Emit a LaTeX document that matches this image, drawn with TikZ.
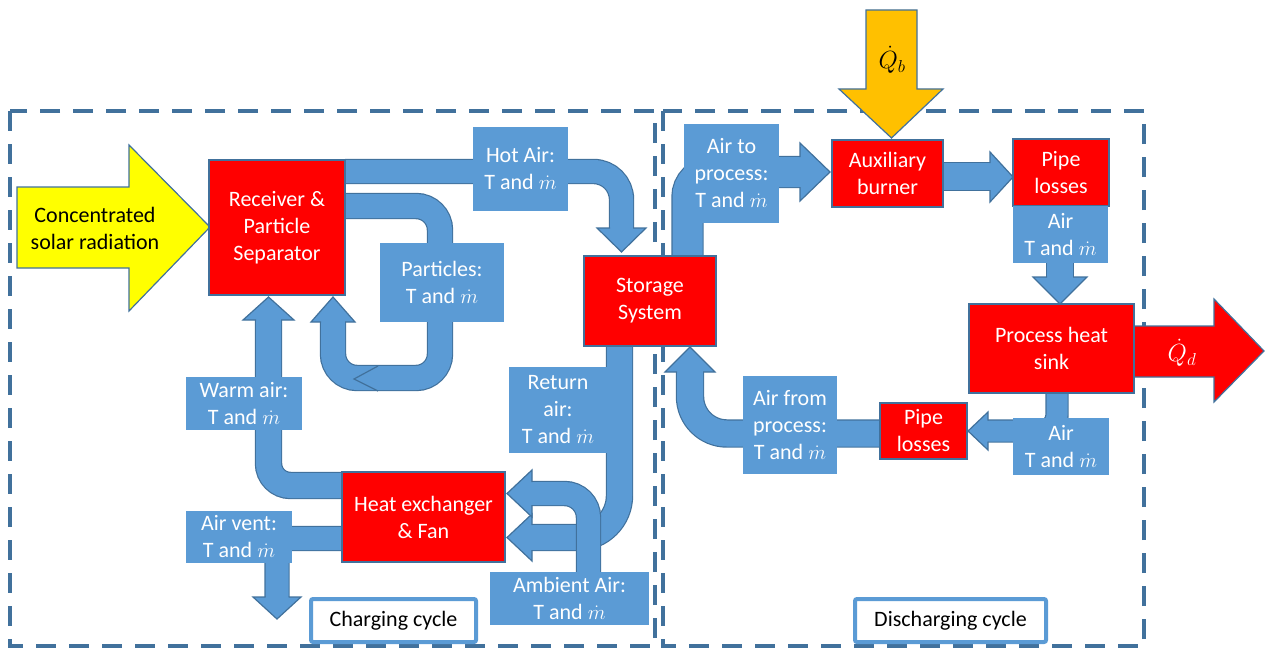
\documentclass[tikz,border=0pt]{standalone}
\usepackage{fontspec}
\setmainfont{Carlito}
\definecolor{lblue}{HTML}{5B9BD5}
\definecolor{dblue}{HTML}{41719C}
\definecolor{pred}{HTML}{FF0000}
\definecolor{pyellow}{HTML}{FFFF00}
\definecolor{porange}{HTML}{FFC000}
\newcommand\ftxt{\fontsize{22}{27}\selectfont}
\newcommand\flowshaft[3]{%
  \draw[dblue, line width=#1pt+2.4pt, rounded corners=#2pt] #3;
  \draw[lblue, line width=#1pt, rounded corners=#2pt] #3;}
\newcommand\flowhead[5]{% shaft edge 1, corner 1, tip, corner 2, shaft edge 2
  \fill[lblue] #1 -- #2 -- #3 -- #4 -- #5 -- cycle;
  \draw[dblue, line width=1.2pt, line join=miter] #1 -- #2 -- #3 -- #4 -- #5;}
\tikzset{
  redbox/.style={draw=dblue, line width=1.5pt, fill=pred, text=white, align=center, inner sep=0pt, font=\ftxt},
  lblbox/.style={fill=lblue, text=white, align=center, inner sep=0pt, font=\ftxt},
  cyclebox/.style={draw=lblue, line width=4pt, fill=white, text=black, inner sep=0pt, rounded corners=2pt, font=\ftxt},
  cyclefrm/.style={draw=dblue, line width=4.5pt, dash pattern=on 20pt off 13pt},
  bigarrow/.style={draw=dblue, line width=1.2pt, line join=miter},
}
\begin{document}
\begin{tikzpicture}[x=1pt, y=-1pt]
\useasboundingbox (0,0) rectangle (1265,650);

% cycle frames
\draw[cyclefrm] (10,111) rectangle (655,646);
\draw[cyclefrm] (663,111) rectangle (1144,646);

% big input/output arrows
\draw[bigarrow, fill=pyellow] (17,187) -- (129,187) -- (129,145) -- (210,227) -- (129,311) -- (129,268) -- (17,268) -- cycle;
\node[font=\ftxt, align=center, text=black] (solar) at (95,228) {Concentrated\\solar radiation};
\draw[bigarrow, fill=porange] (866,10) -- (917,10) -- (917,89) -- (943,89) -- (891.5,138) -- (839,89) -- (866,89) -- cycle;
\node[font=\fontsize{26}{30}\selectfont, text=black] (qb) at (892,60) {$\dot Q_b$};
\draw[bigarrow, fill=pred] (1134,326) -- (1214,326) -- (1214,299) -- (1264,351) -- (1214,402) -- (1214,377) -- (1134,377) -- cycle;
\node[font=\fontsize{26}{30}\selectfont, text=white] (qd) at (1182,353) {$\dot Q_d$};

% flow arrows
% hot air
\flowshaft{23}{28}{(345,171.5) -- (621.5,171.5) -- (621.5,228.5)}
\flowhead{(610,228)}{(597,228)}{(621.5,252)}{(646,228)}{(633,228)}
% particles loop
\flowshaft{24}{24}{(345,206) -- (440,206) -- (440,378) -- (333,378) -- (333,321.5)}
\flowhead{(321,322)}{(311,322)}{(333,297)}{(355,322)}{(345,322)}
\draw[dblue, line width=1.2pt] (378,366) -- (354,379) -- (378,391);
% warm air
\flowshaft{25}{22}{(342,485.5) -- (268.5,485.5) -- (268.5,319.5)}
\flowhead{(256,320)}{(243,320)}{(268.5,297)}{(294,320)}{(281,320)}
% air vent
\flowshaft{23}{14}{(342,538.5) -- (277,538.5) -- (277,597.5)}
\flowhead{(265.5,597)}{(253,597)}{(277,619)}{(301,597)}{(288.5,597)}
% return air
\flowshaft{25}{42}{(619.5,346) -- (619.5,537.5) -- (531.5,537.5)}
\flowhead{(532,525)}{(532,514)}{(507,537.5)}{(532,561)}{(532,550)}
% ambient air
\flowshaft{23}{24}{(588.5,572) -- (588.5,493.5) -- (531.5,493.5)}
\flowhead{(532,482)}{(532,470)}{(507,493.5)}{(532,517)}{(532,505)}
% storage -> air to process
\flowshaft{30}{25}{(687.5,256) -- (687.5,172) -- (800.5,172)}
\flowhead{(800,157)}{(800,143)}{(830,172)}{(800,201)}{(800,187)}
% burner -> pipe
\flowshaft{27}{0}{(943,176.5) -- (990.5,176.5)}
\flowhead{(990,163)}{(990,152)}{(1013,177)}{(990,202)}{(990,190)}
% pipe -> sink
\flowshaft{26}{0}{(1060,206) -- (1060,277.5)}
\flowhead{(1047,277)}{(1033,277)}{(1060,304)}{(1087,277)}{(1073,277)}
% sink -> pipe 2
\flowshaft{21}{16}{(1057,393) -- (1057,431) -- (987.5,431)}
\flowhead{(988,420.5)}{(988,412)}{(968,431)}{(988,450)}{(988,441.5)}
% pipe 2 -> storage
\flowshaft{26}{37}{(880,433.5) -- (690,433.5) -- (690,371.5)}
\flowhead{(677,372)}{(665,372)}{(690,347)}{(715,372)}{(703,372)}

% component boxes
\node[redbox, minimum width=136pt, minimum height=135pt] (receiver) at (277,227.5) {Receiver \&\\Particle\\Separator};
\node[redbox, minimum width=132pt, minimum height=90pt] (storage) at (650,301) {Storage\\System};
\node[redbox, minimum width=163pt, minimum height=90pt] (hx) at (423.5,517) {Heat exchanger\\\& Fan};
\node[redbox, minimum width=111pt, minimum height=67pt] (burner) at (887.5,173.5) {Auxiliary\\burner};
\node[redbox, minimum width=96pt, minimum height=67pt] (pipea) at (1061,172.5) {Pipe\\losses};
\node[redbox, minimum width=165pt, minimum height=89pt] (sink) at (1051.5,348.5) {Process heat\\sink};
\node[redbox, minimum width=87pt, minimum height=56pt] (pipeb) at (923.5,431) {Pipe\\losses};

% stream labels
\node[lblbox, minimum width=95pt, minimum height=84pt] (hotair) at (520.5,169) {Hot Air:\\T and $\dot m$};
\node[lblbox, minimum width=124pt, minimum height=79pt] (particles) at (442,282.5) {Particles:\\T and $\dot m$};
\node[lblbox, minimum width=116pt, minimum height=53pt] (warmair) at (244,403.5) {Warm air:\\T and $\dot m$};
\node[lblbox, minimum width=106pt, minimum height=52pt] (airvent) at (239,537) {Air vent:\\T and $\dot m$};
\node[lblbox, minimum width=98pt, minimum height=86pt] (returnair) at (558,410) {Return\\air:\\T and $\dot m$};
\node[lblbox, minimum width=159pt, minimum height=53pt] (ambient) at (569.5,598.5) {Ambient Air:\\T and $\dot m$};
\node[lblbox, minimum width=95pt, minimum height=99pt] (airto) at (731.5,173.5) {Air to\\process:\\T and $\dot m$};
\node[lblbox, minimum width=95pt, minimum height=57pt] (aira) at (1060.5,234.5) {Air\\T and $\dot m$};
\node[lblbox, minimum width=94pt, minimum height=98pt] (airfrom) at (790,425) {Air from\\process:\\T and $\dot m$};
\node[lblbox, minimum width=96pt, minimum height=57pt] (airb) at (1061,446.5) {Air\\T and $\dot m$};

% cycle labels
\node[cyclebox, minimum width=165pt, minimum height=43pt] (charging) at (393.5,620.5) {Charging cycle};
\node[cyclebox, minimum width=191pt, minimum height=43pt] (discharging) at (950.5,620.5) {Discharging cycle};
\end{tikzpicture}
\end{document}
